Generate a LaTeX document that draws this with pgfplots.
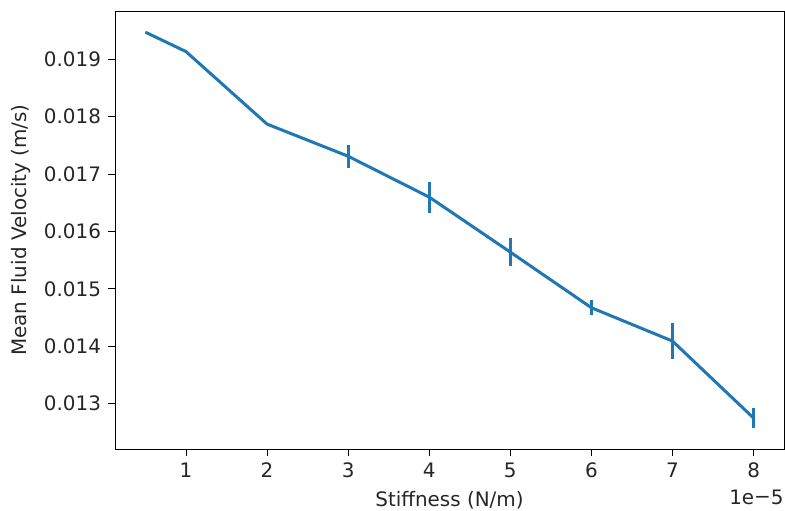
\documentclass[border=0pt]{standalone}
\usepackage{pgfplots}
\pgfplotsset{compat=1.18}
\usepackage{fontspec}
\setmainfont{DejaVu Sans}
\definecolor{mplblue}{HTML}{1F77B4}
\begin{document}
\begin{tikzpicture}
\begin{axis}[
  scale only axis,
  width=334.5bp, height=219bp,
  xmin=0.125, xmax=8.375,
  ymin=0.01221, ymax=0.01984,
  xtick={1,2,3,4,5,6,7,8},
  ytick={0.013,0.014,0.015,0.016,0.017,0.018,0.019},
  scaled y ticks=false,
  scaled x ticks=false,
  yticklabel style={/pgf/number format/.cd, fixed, fixed zerofill, precision=3},
  /pgf/number format/assume math mode=true,
  tick align=outside,
  xtick pos=bottom, ytick pos=left,
  major tick length=3.5bp,
  tick style={black, line width=0.4bp},
  axis line style={black, line width=0.4bp},
  tick label style={font=\fontsize{10}{12}\selectfont, text=black!85},
  label style={font=\fontsize{10}{12}\selectfont, text=black!85},
  xlabel={Stiffness (N/m)},
  ylabel={Mean Fluid Velocity (m/s)},
]
\addplot[color=mplblue, line width=1.5bp, no markers,
  error bars/.cd, y dir=both, y explicit, error mark=none,
  error bar style={color=mplblue, line width=1.5bp}]
  table[x=x, y=y, y error=e] {
x y e
0.5 0.019471 0
1 0.019133 0
2 0.017870 0
3 0.017310 0.00020
4 0.016598 0.00027
5 0.015640 0.00024
6 0.014671 0.00013
7 0.014090 0.00031
8 0.012749 0.00017
};
\end{axis}
\node[anchor=east, font=\fontsize{10}{12}\selectfont, text=black!85, inner sep=0pt]
  at ([yshift=-24bp]current axis.south east) {1e\raisebox{0.1ex}{−}5};
\pgfresetboundingbox
\path[use as bounding box] ([shift={(-57.5bp,-30.5bp)}]current axis.south west) rectangle ([shift={(0.5bp,5.5bp)}]current axis.north east);
\end{tikzpicture}
\end{document}
